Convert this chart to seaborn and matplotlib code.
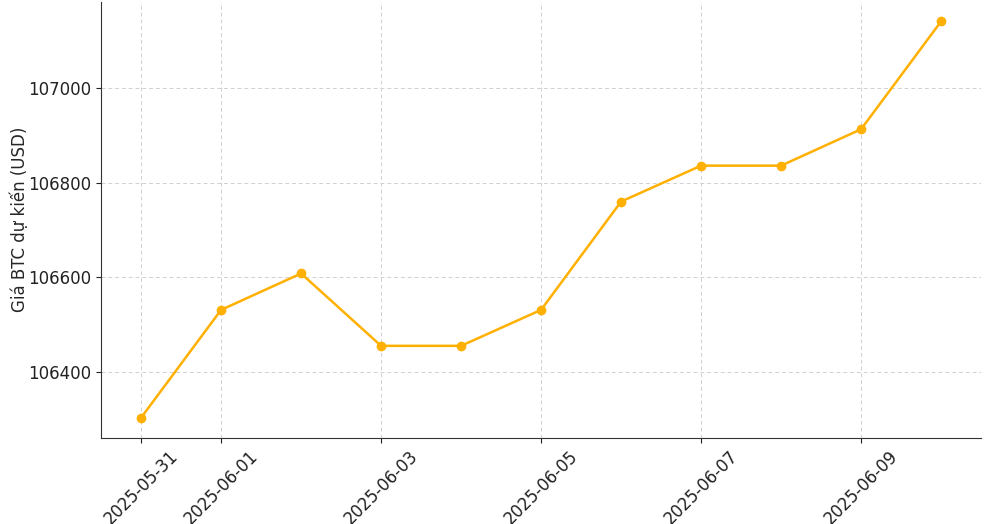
"""
Giá BTC dự kiến theo ngày.
"""

import pandas as pd
import matplotlib
matplotlib.use("Agg")
import matplotlib.pyplot as plt
import matplotlib.dates as mdates
import seaborn as sns

dates = ["2025-05-31", "2025-06-01", "2025-06-02", "2025-06-03",
         "2025-06-04", "2025-06-05", "2025-06-06", "2025-06-07",
         "2025-06-08", "2025-06-09", "2025-06-10"]
prices = [106303, 106531, 106608, 106455, 106455, 106531,
          106760, 106836, 106836, 106913, 107141]
tick_dates = ["2025-05-31", "2025-06-01", "2025-06-03", "2025-06-05",
              "2025-06-07", "2025-06-09"]


def main():
    df = pd.DataFrame({"date": pd.to_datetime(dates), "price": prices})

    sns.set_style("ticks")
    plt.rcParams['font.family'] = ['DejaVu Sans']

    fig, ax = plt.subplots(figsize=(9.91, 5.24), dpi=100)
    sns.lineplot(data=df, x="date", y="price", color="#FFB000",
                 marker="o", markersize=7, markeredgewidth=0,
                 linewidth=1.8, ax=ax)

    ax.set_xticks(pd.to_datetime(tick_dates))
    ax.xaxis.set_major_formatter(mdates.DateFormatter("%Y-%m-%d"))
    plt.setp(ax.get_xticklabels(), rotation=45, ha="center")
    ax.set_yticks([106400, 106600, 106800, 107000])
    ax.tick_params(labelsize=12, colors="#222222")

    ax.set_xlabel("")
    ax.set_ylabel("Giá BTC dự kiến (USD)", fontsize=12)
    ax.yaxis.set_label_coords(-0.082, 0.5)
    ax.grid(True, linestyle=(0, (4, 3)), color="#d0d0d0", linewidth=0.7)
    sns.despine(ax=ax)
    for side in ("left", "bottom"):
        ax.spines[side].set_color("#333333")

    fig.subplots_adjust(left=0.102, right=0.99, top=0.997, bottom=0.165)
    fig.savefig("out.png", dpi=100)


if __name__ == "__main__":
    main()
